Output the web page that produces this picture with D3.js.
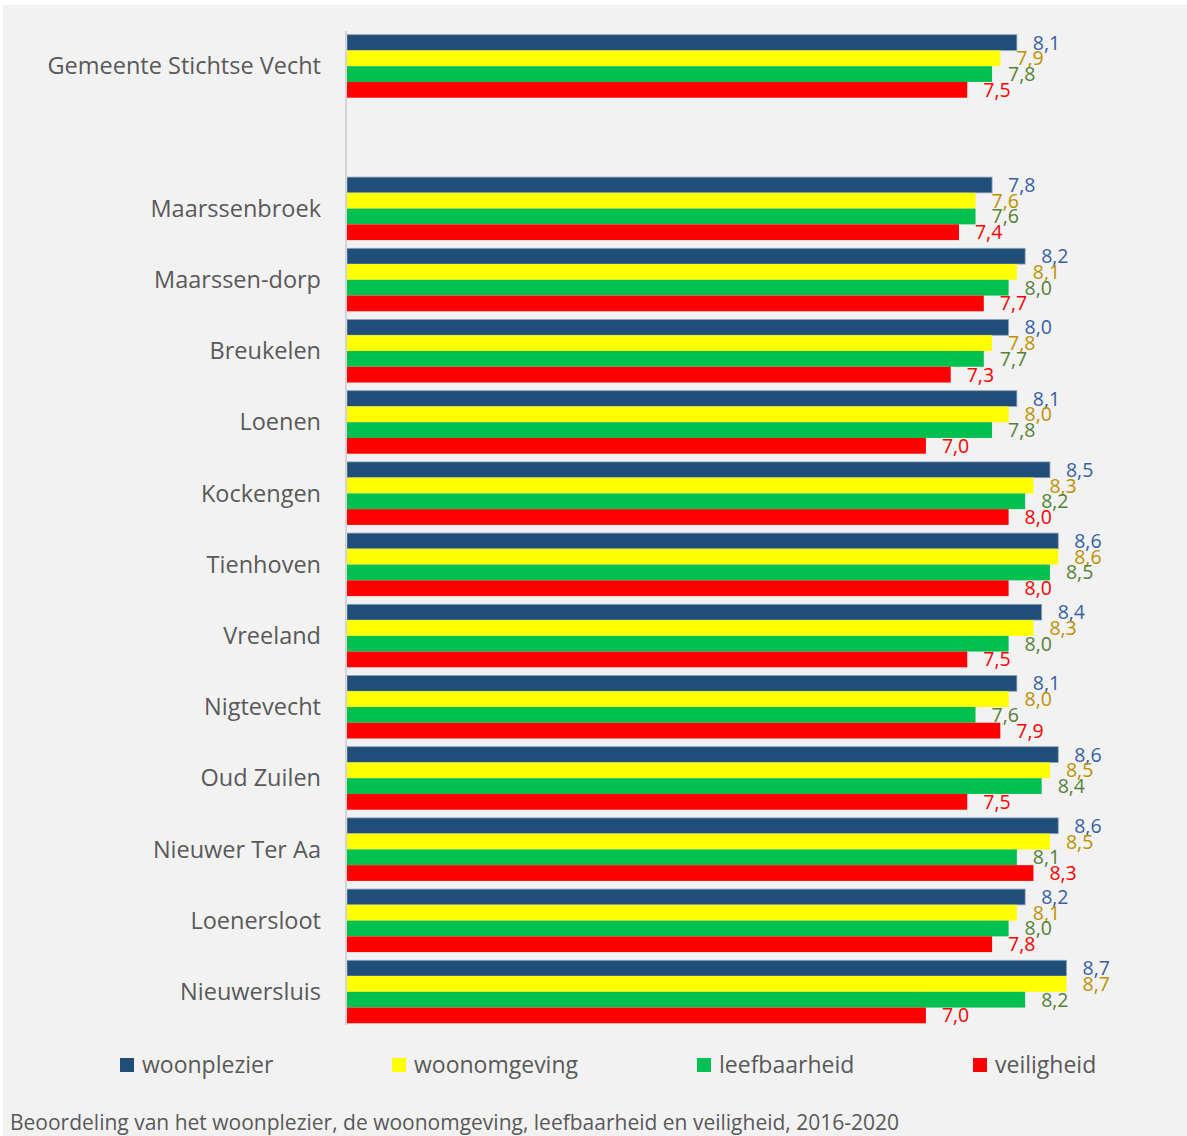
<!DOCTYPE html>
<html>
<head>
<meta charset="utf-8">
<script src="https://cdn.jsdelivr.net/npm/d3@7"></script>
<style>
  html, body { margin: 0; padding: 0; background: #ffffff; }
  svg { display: block; }
</style>
</head>
<body>
<svg id="chart" width="1187" height="1136"></svg>
<script>
// Wijken / kernen (een lege regel scheidt de gemeente van de kernen)
const categories = ["Gemeente Stichtse Vecht", " ", "Maarssenbroek", "Maarssen-dorp", "Breukelen", "Loenen",
  "Kockengen", "Tienhoven", "Vreeland", "Nigtevecht", "Oud Zuilen", "Nieuwer Ter Aa", "Loenersloot", "Nieuwersluis"];

const seriesNames = ["woonplezier", "woonomgeving", "leefbaarheid", "veiligheid"];

const woonplezier  = [8.1, null, 7.8, 8.2, 8.0, 8.1, 8.5, 8.6, 8.4, 8.1, 8.6, 8.6, 8.2, 8.7];
const woonomgeving = [7.9, null, 7.6, 8.1, 7.8, 8.0, 8.3, 8.6, 8.3, 8.0, 8.5, 8.5, 8.1, 8.7];
const leefbaarheid = [7.8, null, 7.6, 8.0, 7.7, 7.8, 8.2, 8.5, 8.0, 7.6, 8.4, 8.1, 8.0, 8.2];
const veiligheid   = [7.5, null, 7.4, 7.7, 7.3, 7.0, 8.0, 8.0, 7.5, 7.9, 7.5, 8.3, 7.8, 7.0];

const caption = "Beoordeling van het woonplezier, de woonomgeving, leefbaarheid en veiligheid, 2016-2020";

const barColors   = ["#1f4e79", "#ffff00", "#00c050", "#ff0000"];
const labelColors = ["#3560a8", "#bf9000", "#548235", "#ff0000"];

const valuesBySeries = [woonplezier, woonomgeving, leefbaarheid, veiligheid];

const svg = d3.select("#chart");
const W = 1187, H = 1136;
const font = "'Open Sans', sans-serif";

// achtergrond
svg.append("rect").attr("width", W).attr("height", H).attr("fill", "#ffffff");
svg.append("rect").attr("x", 3).attr("y", 5).attr("width", W - 3).attr("height", H - 5).attr("fill", "#f2f2f2");

const x = d3.scaleLinear().domain([0, 10]).range([347, 1174]);
const y = d3.scaleBand().domain(categories).range([30.6, 1027.4]).paddingInner(0.115).paddingOuter(0.0575);
const ySub = d3.scaleBand().domain(seriesNames).range([0, y.bandwidth()]);

const rows = categories.map((c, i) => ({
  cat: c,
  vals: seriesNames.map((s, k) => ({ series: s, k, v: valuesBySeries[k][i] }))
}));

const groups = svg.append("g").selectAll("g.row")
  .data(rows).join("g")
  .attr("class", "row")
  .attr("transform", d => `translate(0,${y(d.cat)})`);

const fmt = v => d3.format(".1f")(v).replace(".", ",");

groups.selectAll("rect.bar")
  .data(d => d.vals.filter(e => e.v != null))
  .join("rect")
  .attr("class", "bar")
  .attr("x", x(0))
  .attr("y", e => ySub(e.series))
  .attr("width", e => x(e.v) - x(0))
  .attr("height", ySub.bandwidth())
  .attr("fill", e => barColors[e.k])
  .attr("stroke", e => e.k === 0 ? "#8ea3bb" : "none")
  .attr("stroke-width", 0.8);

groups.selectAll("text.val")
  .data(d => d.vals.filter(e => e.v != null))
  .join("text")
  .attr("class", "val")
  .attr("x", e => x(e.v) + 16)
  .attr("y", e => ySub(e.series) + ySub.bandwidth() / 2)
  .attr("dy", "0.36em")
  .attr("font-family", font)
  .attr("font-size", 19.5)
  .attr("fill", e => labelColors[e.k])
  .text(e => fmt(e.v));

// categorie-as
svg.append("line")
  .attr("x1", 346).attr("x2", 346)
  .attr("y1", 31).attr("y2", 1025)
  .attr("stroke", "#d4d4d4").attr("stroke-width", 2);

svg.append("g").selectAll("text.cat")
  .data(categories.filter(c => c.trim() !== ""))
  .join("text")
  .attr("class", "cat")
  .attr("x", 321)
  .attr("y", c => y(c) + y.bandwidth() / 2)
  .attr("dy", "0.35em")
  .attr("text-anchor", "end")
  .attr("font-family", font)
  .attr("font-size", 23.5)
  .attr("fill", "#595959")
  .text(c => c);

// legenda
const legendX = [120, 392, 697, 973];
const legend = svg.append("g").selectAll("g.leg")
  .data(seriesNames).join("g")
  .attr("class", "leg")
  .attr("transform", (d, i) => `translate(${legendX[i]},1058)`);
legend.append("rect").attr("width", 14).attr("height", 14).attr("fill", (d, i) => barColors[i]);
legend.append("text")
  .attr("x", 22).attr("y", 7).attr("dy", "0.36em")
  .attr("font-family", font).attr("font-size", 23).attr("fill", "#595959")
  .text(d => d);

// onderschrift
svg.append("text")
  .attr("x", 10).attr("y", 1130)
  .attr("font-family", font).attr("font-size", 21).attr("fill", "#595959")
  .text(caption);
</script>
</body>
</html>
